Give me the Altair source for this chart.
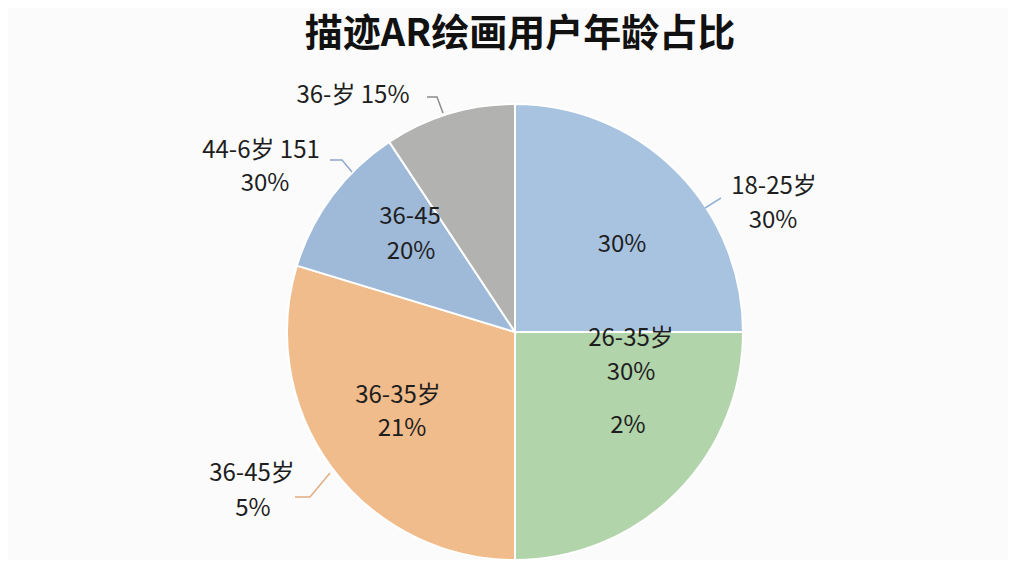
import altair as alt
import pandas as pd

# ---- data ----
categories = ["18-25岁", "26-35岁", "36-35岁", "36-45", "36-岁"]
shares = [25.0, 25.0, 29.7, 11.0, 9.3]
colors = ["#a8c3e0", "#b2d4ab", "#f1bc8b", "#9fb9d9", "#b2b2b0"]

label_texts = [
    "36-岁 15%", "44-6岁 151", "30%", "18-25岁", "30%", "36-45岁", "5%",
    "30%", "26-35岁", "30%", "2%", "36-35岁", "21%", "36-45", "20%",
]
# label anchor offsets from pie centre (px)
label_dx = [-162, -254, -250, 259, 258, -263, -262, 107, 116, 116, 113, -117, -113, -105, -104]
label_dy = [-236, -181, -148, -145, -111, 142, 177, -87, 7, 41, 94, 64, 97, -115, -80]

title_text = "描迹AR绘画用户年龄占比"

# leader lines (elbow polylines), offsets from centre
leader_id = [0, 0, 0, 1, 1, 1, 2, 2, 3, 3, 3]
leader_dx = [-88, -78, -72, -185, -173, -163, 190, 206, -220, -205, -185]
leader_dy = [-235, -235, -219, -172, -172, -160, -124, -134, 165, 165, 141]
leader_colors = ["#8c8c8c", "#8fa8c8", "#95b3d8", "#e3ad80"]

W, H = 1000, 552
CX, CY = 507, 324   # pie centre inside the plot area
R = 228

pie_df = pd.DataFrame({"cat": categories, "share": shares, "idx": list(range(len(categories)))})
lab_df = pd.DataFrame({"t": label_texts, "dx": label_dx, "dy": label_dy})
lead_df = pd.DataFrame({
    "lid": [str(i) for i in leader_id], "dx": leader_dx, "dy": leader_dy,
    "k": list(range(len(leader_id))),
})
title_df = pd.DataFrame({"t": [title_text], "dx": [5], "dy": [-297]})

xs = alt.Scale(domain=[-CX, W - CX], range=[0, W])
ys = alt.Scale(domain=[-CY, H - CY], range=[0, H])
font = "Noto Sans CJK SC"

pie = alt.Chart(pie_df).mark_arc(radius=R, stroke="white", strokeWidth=2).encode(
    theta=alt.Theta("share:Q", stack=True),
    color=alt.Color("cat:N", scale=alt.Scale(domain=categories, range=colors), legend=None),
    order=alt.Order("idx:Q"),
    x=alt.value(CX),
    y=alt.value(CY),
)

leaders = alt.Chart(lead_df).mark_line(strokeWidth=1.5).encode(
    x=alt.X("dx:Q", scale=xs, axis=None),
    y=alt.Y("dy:Q", scale=ys, axis=None),
    detail="lid:N",
    order="k:Q",
    color=alt.Color("lid:N", scale=alt.Scale(domain=["0", "1", "2", "3"], range=leader_colors), legend=None),
)

labels = alt.Chart(lab_df).mark_text(
    font=font, fontSize=24, color="#1e1e1e", align="center", baseline="middle"
).encode(
    x=alt.X("dx:Q", scale=xs, axis=None),
    y=alt.Y("dy:Q", scale=ys, axis=None),
    text="t:N",
)

title = alt.Chart(title_df).mark_text(
    font=font, fontSize=38, fontWeight="bold", color="#111111", align="center", baseline="middle"
).encode(
    x=alt.X("dx:Q", scale=xs, axis=None),
    y=alt.Y("dy:Q", scale=ys, axis=None),
    text="t:N",
)

chart = alt.layer(pie, leaders, labels, title).resolve_scale(color="independent").properties(
    width=W, height=H,
    autosize=alt.AutoSizeParams(type="none"),
    padding=0,
    background="#fbfbfb",
).configure_view(stroke=None)

chart.save("out.html", embed_options={"renderer": "svg", "actions": False})
